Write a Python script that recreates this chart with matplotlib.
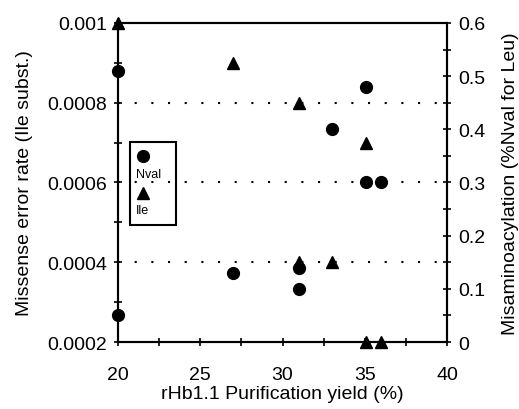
import matplotlib
matplotlib.use('Agg')
import matplotlib.pyplot as plt
from matplotlib.patches import Rectangle
from matplotlib.ticker import MultipleLocator, FixedFormatter, FixedLocator

plt.rcParams['font.family'] = ['Liberation Sans', 'DejaVu Sans']

# Ile missense error rate (left axis)
ile_x = [20, 27, 31, 31, 33, 35.1, 35.1, 36]
ile_y = [0.001, 0.0009, 0.0008, 0.0004, 0.0004, 0.0007, 0.0002, 0.0002]

# Nval misaminoacylation (right axis)
nval_x = [20, 20, 27, 31, 31, 33, 35.1, 35.1, 36]
nval_y = [0.51, 0.05, 0.13, 0.14, 0.10, 0.40, 0.48, 0.30, 0.30]

x_ticks = [20, 25, 30, 35, 40]
left_ticks = [0.0002, 0.0004, 0.0006, 0.0008, 0.001]
left_labels = ['0.0002', '0.0004', '0.0006', '0.0008', '0.001']
right_ticks = [0, 0.1, 0.2, 0.3, 0.4, 0.5, 0.6]
right_labels = ['0', '0.1', '0.2', '0.3', '0.4', '0.5', '0.6']
grid_levels = [0.0004, 0.0006, 0.0008]

fig = plt.figure(figsize=(5.19, 4.10), dpi=100)
ax = fig.add_axes([0.2274, 0.1634, 0.6339, 0.7781])
ax2 = ax.twinx()

ax.set_xlim(20, 40)
ax.set_ylim(0.0002, 0.001)
ax2.set_ylim(0, 0.6)

for g in grid_levels:
    ax.axhline(g, color='black', lw=1.5, ls=(0, (1, 7)), zorder=1)

ax.plot(ile_x, ile_y, '^', color='black', ms=8.5, clip_on=False, zorder=5)
ax2.plot(nval_x, nval_y, 'o', color='black', ms=8.5, clip_on=False, zorder=5)

ax.xaxis.set_major_locator(FixedLocator(x_ticks))
ax.xaxis.set_minor_locator(MultipleLocator(2.5))
ax.yaxis.set_major_locator(FixedLocator(left_ticks))
ax.yaxis.set_major_formatter(FixedFormatter(left_labels))
ax.yaxis.set_minor_locator(MultipleLocator(0.0001))
ax2.yaxis.set_major_locator(FixedLocator(right_ticks))
ax2.yaxis.set_major_formatter(FixedFormatter(right_labels))
ax2.yaxis.set_minor_locator(MultipleLocator(0.05))

for a in (ax, ax2):
    for s in a.spines.values():
        s.set_linewidth(1.5)
    a.tick_params(which='both', direction='inout', length=6, width=1.2, labelsize=14, pad=5)
ax.tick_params(axis='x', top=False, which='both', pad=14)
ax2.tick_params(axis='x', top=False, bottom=False, which='both')

ax.set_xlabel('rHb1.1 Purification yield (%)', fontsize=14, labelpad=2)
ax.set_ylabel('Missense error rate (Ile subst.)', fontsize=14, labelpad=10)
ax2.set_ylabel('Misaminoacylation (%Nval for Leu)', fontsize=14, labelpad=12)

# legend box with markers above labels
ax.add_patch(Rectangle((0.0365, 0.367), 0.1395, 0.26, transform=ax.transAxes,
                       fill=False, lw=1.5, ec='black', zorder=6))
ax.plot([0.076], [0.583], 'o', color='black', ms=8.5, transform=ax.transAxes, zorder=7)
ax.text(0.055, 0.528, 'Nval', transform=ax.transAxes, fontsize=9, va='center', ha='left')
ax.plot([0.076], [0.468], '^', color='black', ms=8.5, transform=ax.transAxes, zorder=7)
ax.text(0.055, 0.413, 'Ile', transform=ax.transAxes, fontsize=9, va='center', ha='left')

fig.savefig('out.png', dpi=100)
